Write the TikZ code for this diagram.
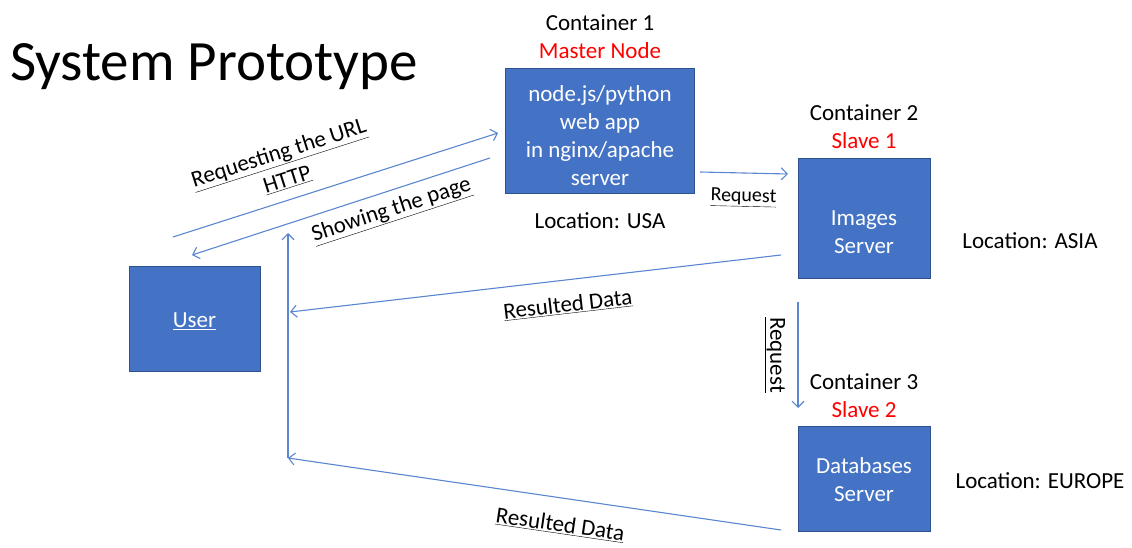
\documentclass[tikz,border=0pt]{standalone}
\usepackage{fontspec}
\setmainfont{Carlito}
\usetikzlibrary{arrows.meta, positioning}
\definecolor{boxblue}{HTML}{4472C4}
\definecolor{boxedge}{HTML}{2F528F}
\definecolor{linkblue}{HTML}{5B86D0}

\begin{document}
\begin{tikzpicture}[
  x=1pt, y=1pt,
  every node/.style={font=\fontsize{23}{28}\selectfont, align=center},
  server/.style={draw=boxedge, fill=boxblue, line width=0.8pt},
  boxtext/.style={text=white},
  link/.style={->, draw=linkblue, line width=1.1pt},
  >={Straight Barb[length=6pt,width=12pt]}
]
\useasboundingbox (0,0) rectangle (1132,547);

% Title
\node[font=\fontsize{57}{62}\selectfont] (title) at (214,480) {System Prototype};

% Servers
\node[server, minimum width=189, minimum height=125] (master) at (600,416.5) {};
\node[server, minimum width=132, minimum height=120] (images) at (864,329) {};
\node[server, minimum width=132, minimum height=105] (db) at (864,68.5) {};
\node[server, minimum width=131, minimum height=105] (user) at (194.5,228.5) {};

% Server texts
\node[boxtext] (mastertext) at ([yshift=-5]master.center) {node.js/python\\web app\\in nginx/apache\\server};
\node[boxtext] (imagestext) at ([yshift=-14]images.center) {Images\\Server};
\node[boxtext] (dbtext) at ([yshift=-1]db.center) {Databases\\Server};
\node[boxtext] (usertext) at ([yshift=-3]user.center) {\underline{User}};

% Container labels
\node[above=5pt of master] (c1) {Container 1\\\textcolor{red}{Master Node}};
\node[above=5pt of images] (c2) {Container 2\\\textcolor{red}{Slave 1}};
\node[above=4pt of db] (c3) {Container 3\\\textcolor{red}{Slave 2}};

% Locations
\node[below=16pt of master] (locusa) {Location: USA};
\node (locasia) at (1030,306) {Location: ASIA};
\node (loceu) at (1040,66) {Location: EUROPE};

% Link ends
\coordinate (urlA) at (173,310);
\coordinate (urlB) at ([shift={(-7,-2.5)}]master.west);
\coordinate (showA) at (490,389);
\coordinate (showB) at (192,292);
\coordinate (reqA) at (700,375);
\coordinate (reqB) at (788,373);
\coordinate (resA) at (781,292);
\coordinate (resB) at (290,235);
\coordinate (upA) at (288,89);
\coordinate (upB) at (288,314);
\coordinate (res2A) at (781,17);
\coordinate (req2A) at (798,245);
\coordinate (req2B) at (798,139);

% Edges
\draw[link] (urlA) -- node[above=7pt, sloped, pos=0.37]{\underline{Requesting the URL}\\\underline{HTTP}} (urlB);
\draw[link] (showA) -- node[below=5pt, sloped, pos=0.35]{\underline{Showing the page}} (showB);
\draw[link] (reqA) -- node[below=12pt, sloped]{\underline{\fontsize{20}{24}\selectfont Request}} (reqB);
\draw[link] (resA) -- node[below=12pt, sloped, pos=0.44]{\underline{Resulted Data}} (resB);
\draw[link] (upA) -- (upB);
\draw[link] (res2A) -- node[below=14pt, sloped, pos=0.44]{\underline{Resulted Data}} (upA);
\draw[link] (req2A) -- node[midway, xshift=-23, rotate=-90]{\underline{Request}} (req2B);
\end{tikzpicture}
\end{document}
